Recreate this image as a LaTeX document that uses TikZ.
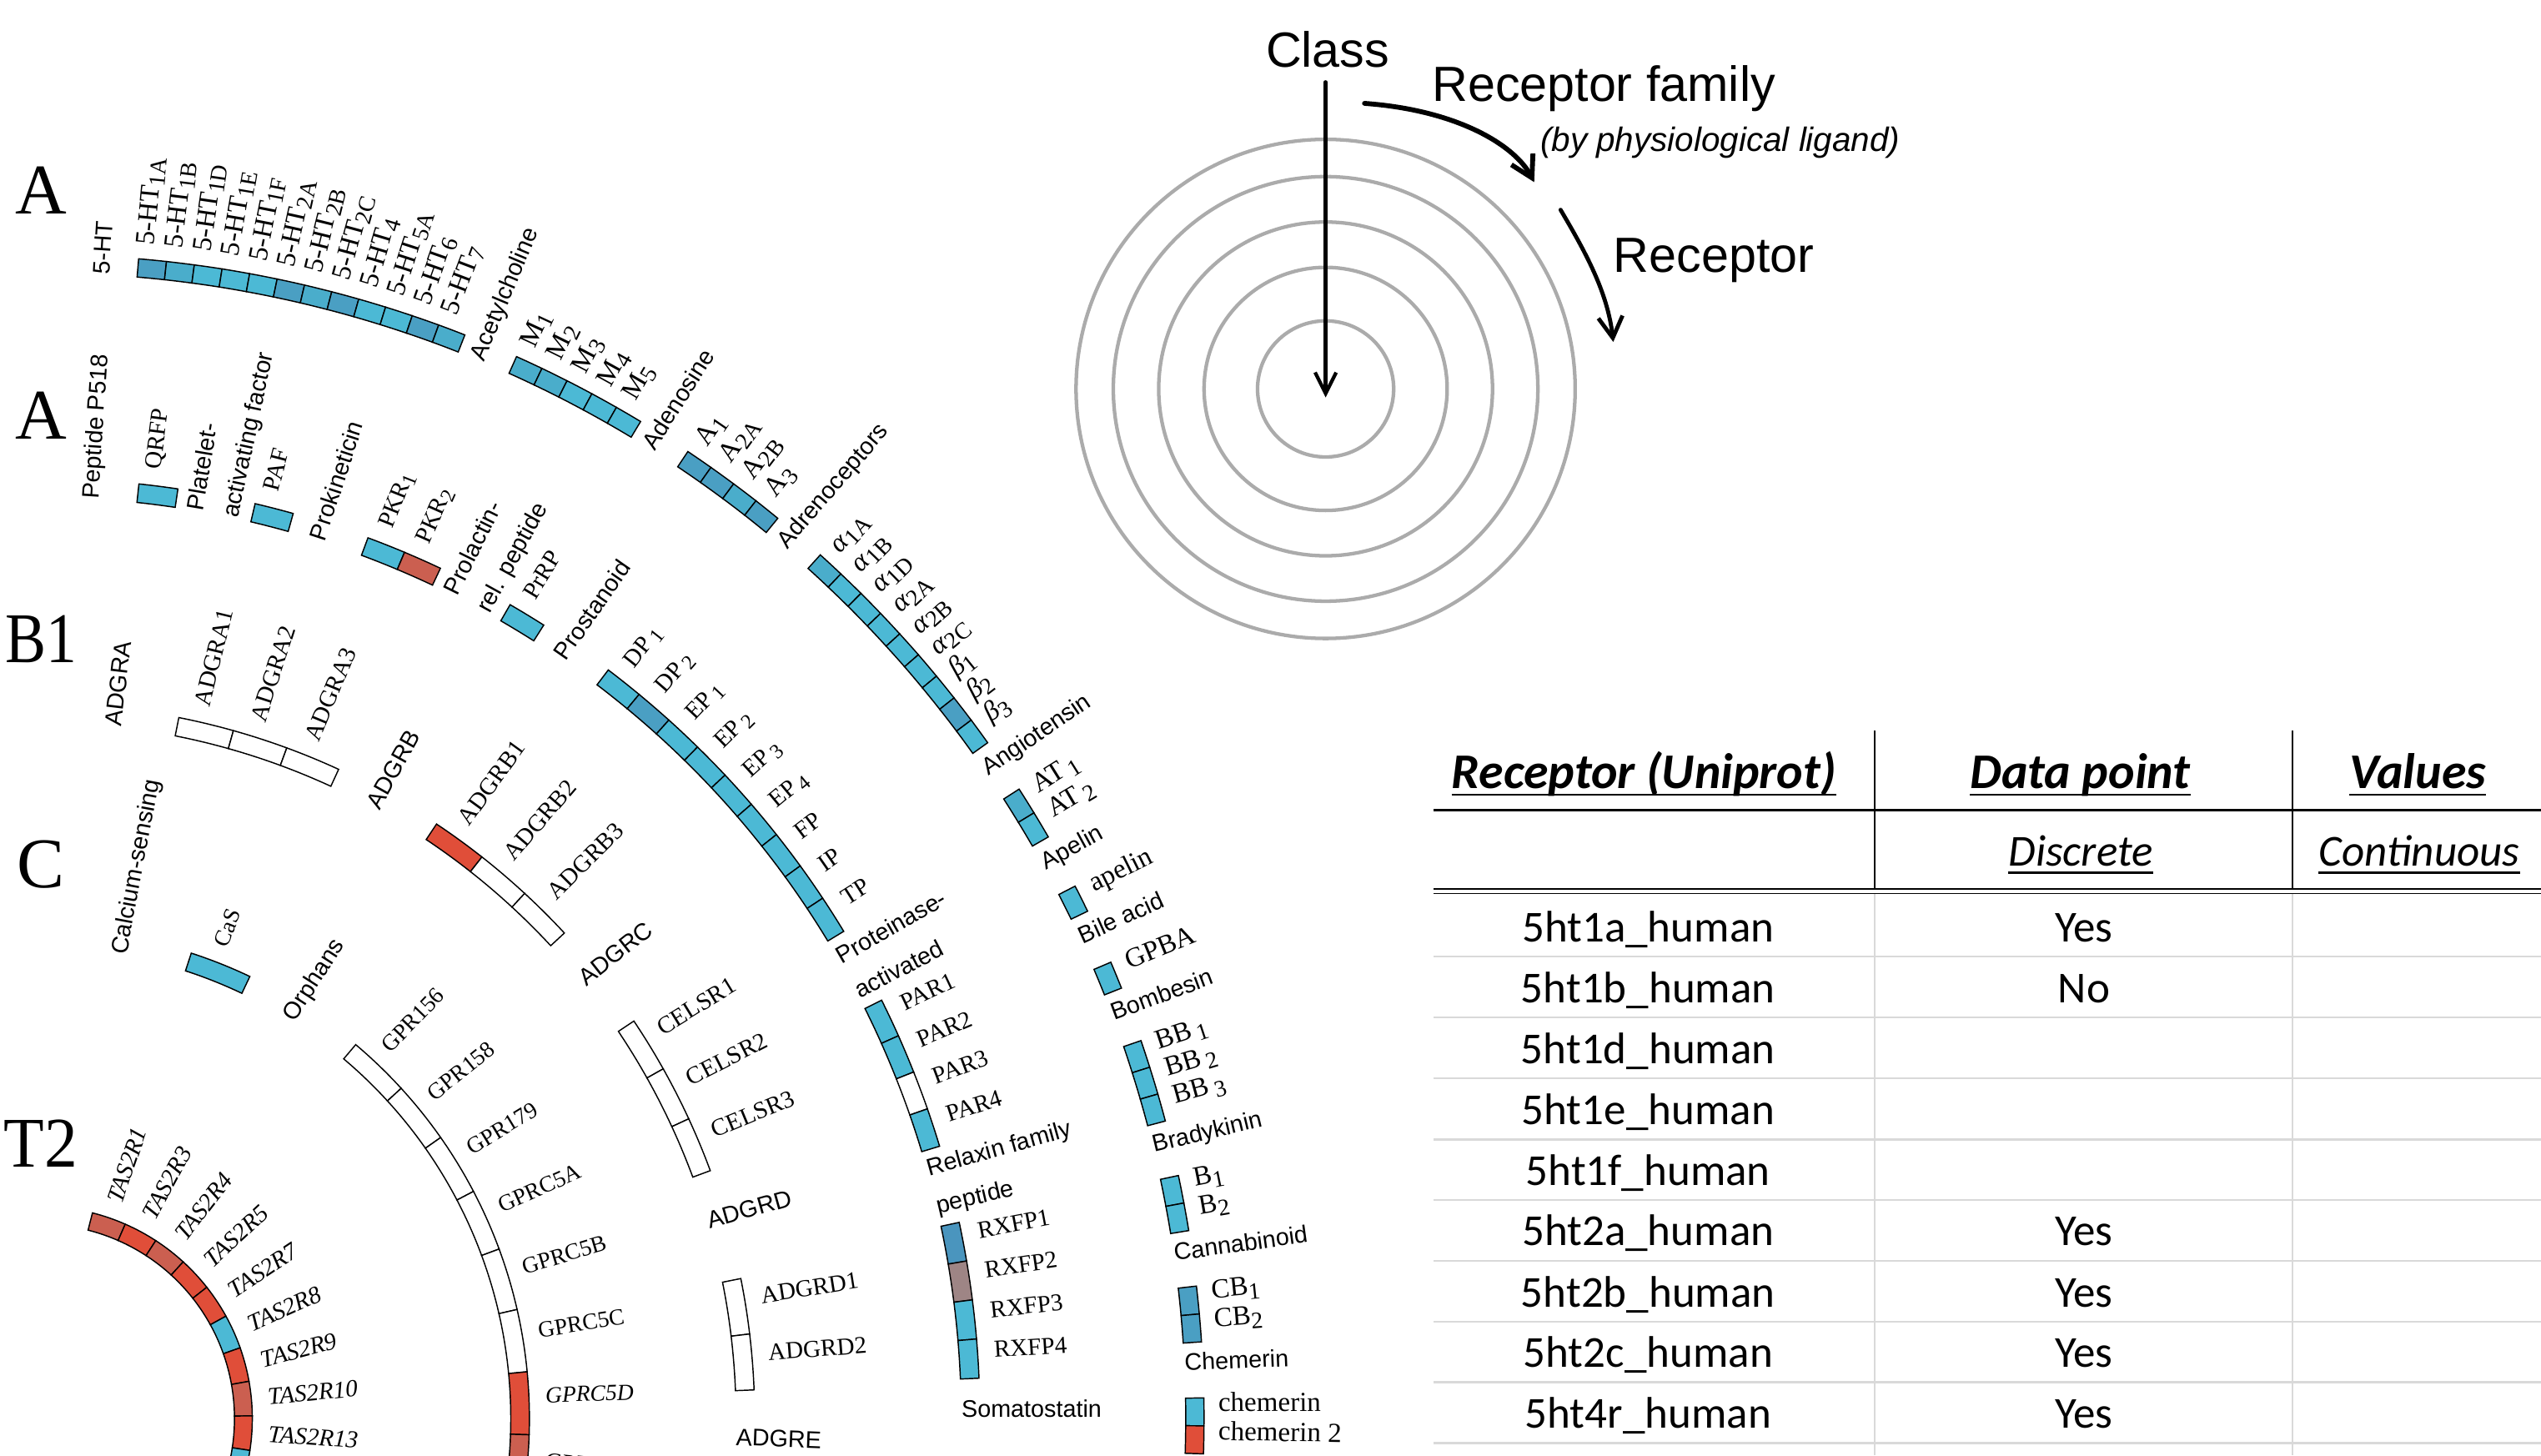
\documentclass[tikz,border=0pt]{standalone}
\usepackage{fontspec}
\setmainfont{Liberation Serif}
\newfontfamily\sansf{Liberation Sans}
\newfontfamily\calib{Carlito}
\usepackage{graphicx}
\usetikzlibrary{arrows.meta}
\definecolor{cL}{HTML}{4CB9D5}
\definecolor{cM}{HTML}{4AADCB}
\definecolor{cD}{HTML}{4A9FC3}
\definecolor{cS}{HTML}{4A95BE}
\definecolor{cT}{HTML}{9E8585}
\definecolor{cR}{HTML}{E04E39}
\definecolor{cRm}{HTML}{CB5F50}
\definecolor{ringgray}{HTML}{ABABAB}
\definecolor{rulegray}{HTML}{D9D9D9}
\newcommand\lo[1]{\raisebox{-0.4ex}{\scalebox{0.85}{#1}}}
% #1 Rin, #2 Rout, #3 start angle, #4 step, #5 label radius, #6 label style, #7 name prefix, #8 colour/label list
\newcommand\ringblock[8]{%
  \foreach \col/\lab [count=\i from 0] in {#8} {%
    \pgfmathsetmacro\angA{#3-\i*(#4)}%
    \pgfmathsetmacro\angB{#3-(\i+1)*(#4)}%
    \pgfmathsetmacro\angM{#3-(\i+0.5)*(#4)}%
    \filldraw[cell, fill=\col] (\angA:#1) arc[start angle=\angA, end angle=\angB, radius=#1]
      -- (\angB:#2) arc[start angle=\angB, end angle=\angA, radius=#2] -- cycle;
    \node[#6, rotate=\angM] (#7\i) at (\angM:#5) {\lab};
  }}
\newcommand\famlab[4]{\pgfmathsetmacro\famang{#2}\node[fam, rotate=\famang] (#3) at (\famang:#1) {#4};}
\newcommand\famtwo[6]{\pgfmathsetmacro\famA{#2+#3}\pgfmathsetmacro\famB{#2-#3}%
  \node[fam, anchor=west, rotate=\famA] (#4a) at (\famA:#1) {#5};%
  \node[fam, anchor=west, rotate=\famB] (#4b) at (\famB:#1) {#6};}
\newcommand\uline[4]{%
  \node[font=#3, anchor=base, inner sep=0pt] (#1) at (#2) {#4};
  \draw[line width=1.5pt] ([yshift=-4pt]#1.base west) -- ([yshift=-4pt]#1.base east);}
\def\oS{85.14}\def\oD{1.379}
\def\iS{83.96}\def\iD{2.397}
\def\bS{78.8}\def\bD{4.5}
\def\ccS{72.0}\def\ccD{7.39}
\begin{document}
\begin{tikzpicture}[x=1pt,y=1pt,
  cell/.style={draw=black, line width=0.75pt},
  fam/.style={font=\sansf\fontsize{14.8}{17}\selectfont, inner sep=0pt, anchor=base west},
  recO/.style={font=\fontsize{17}{19}\selectfont, inner sep=0pt, anchor=base west},
  recI/.style={font=\fontsize{15}{17}\selectfont, inner sep=0pt, anchor=base west},
  recC/.style={font=\fontsize{14.2}{16}\selectfont, inner sep=0pt, anchor=base west},
  recT/.style={font=\itshape\fontsize{15}{17}\selectfont, inner sep=0pt, anchor=west},
  cls/.style={font=\fontsize{44}{50}\selectfont, inner sep=0pt, anchor=base},
  hd/.style={font=\sansf\fontsize{30.5}{34}\selectfont, inner sep=0pt, anchor=base west},
  arr/.style={line cap=round}]
\path[use as bounding box] (0,0) rectangle (1568,898);
\clip (0,0) rectangle (1568,898);

% ---------------- class letters
\node[cls] (clA1) at (25.3,766) {A};
\node[cls] (clA2) at (25.2,627.1) {A};
\node[cls] (clB1) at (25.4,489.3) {\scalebox{0.86}[1]{B1}};
\node[cls] (clC)  at (25.2,350) {C};
\node[cls] (clT2) at (25.3,178) {\scalebox{0.93}[1]{T2}};

\begin{scope}[shift={(24.7,22.6)}]
% ---------------- class A, outer ring
\ringblock{707}{718.3}{\oS}{\oD}{727}{recO}{ht}{cD/5-HT\lo{1A}, cM/5-HT\lo{1B}, cL/5-HT\lo{1D}, cL/5-HT\lo{1E}, cL/5-HT\lo{1F}, cD/5-HT\lo{2A}, cM/5-HT\lo{2B}, cD/5-HT\lo{2C}, cL/5-HT\lo{4}, cL/5-HT\lo{5A}, cD/5-HT\lo{6}, cM/5-HT\lo{7}}
\ringblock{707}{718.3}{\oS-14*\oD}{\oD}{727}{recO}{mm}{cM/M\lo{1}, cM/M\lo{2}, cL/M\lo{3}, cL/M\lo{4}, cL/M\lo{5}}
\ringblock{707}{718.3}{\oS-21*\oD}{\oD}{727}{recO}{ad}{cD/A\lo{1}, cD/A\lo{2A}, cM/A\lo{2B}, cD/A\lo{3}}
\ringblock{707}{718.3}{\oS-27*\oD}{\oD}{727}{recO}{al}{cM/\textit{α}\lo{1A}, cL/\textit{α}\lo{1B}, cL/\textit{α}\lo{1D}, cL/\textit{α}\lo{2A}, cL/\textit{α}\lo{2B}, cL/\textit{α}\lo{2C}, cL/\textit{β}\lo{1}, cD/\textit{β}\lo{2}, cL/\textit{β}\lo{3}}
\ringblock{707}{718.3}{\oS-38*\oD}{\oD}{727}{recO}{at}{cM/AT\,\lo{1}, cL/AT\,\lo{2}}
\ringblock{707}{718.3}{\oS-42*\oD}{\oD}{727}{recO}{ap}{cL/apelin}
\ringblock{707}{718.3}{\oS-45*\oD}{\oD}{727}{recO}{gp}{cL/GPBA}
\ringblock{707}{718.3}{\oS-48*\oD}{\oD}{727}{recO}{bb}{cL/BB\,\lo{1}, cL/BB\,\lo{2}, cL/BB\,\lo{3}}
\ringblock{707}{718.3}{\oS-53*\oD}{\oD}{727}{recO}{bk}{cL/B\lo{1}, cL/B\lo{2}}
\ringblock{707}{718.3}{\oS-57*\oD}{\oD}{727}{recO}{cb}{cD/CB\lo{1}, cD/CB\lo{2}}
\ringblock{707}{718.3}{\oS-61*\oD}{\oD}{727}{recO}{ch}{cL/chemerin, cR/{chemerin 2}}
\famlab{707}{\oS+\oD}{f5ht}{5-HT}
\famlab{707}{\oS-13*\oD}{fach}{Acetylcholine}
\famlab{707}{\oS-20*\oD}{fade}{Adenosine}
\famlab{707}{\oS-26*\oD}{fadr}{Adrenoceptors}
\famlab{707}{\oS-37*\oD}{fang}{Angiotensin}
\famlab{707}{\oS-41*\oD}{fape}{Apelin}
\famlab{707}{\oS-44*\oD}{fbil}{Bile acid}
\famlab{707}{\oS-47*\oD}{fbom}{Bombesin}
\famlab{707}{\oS-52*\oD}{fbra}{Bradykinin}
\famlab{707}{\oS-56*\oD}{fcan}{Cannabinoid}
\famlab{707}{\oS-60*\oD}{fche}{Chemerin}

% ---------------- class A, inner ring
\ringblock{568.5}{580}{\iS}{\iD}{590}{recI}{qr}{cL/QRFP}
\ringblock{568.5}{580}{\iS-3*\iD}{\iD}{590}{recI}{pa}{cL/PAF}
\ringblock{568.5}{580}{\iS-6*\iD}{\iD}{590}{recI}{pk}{cL/PKR\lo{1}, cRm/PKR\lo{2}}
\ringblock{568.5}{580}{\iS-10*\iD}{\iD}{590}{recI}{pp}{cL/PrRP}
\ringblock{568.5}{580}{\iS-13*\iD}{\iD}{590}{recI}{ps}{cL/DP\,\lo{1}, cD/DP\,\lo{2}, cL/EP\,\lo{1}, cL/EP\,\lo{2}, cL/EP\,\lo{3}, cL/EP\,\lo{4}, cL/FP, cL/IP, cL/TP}
\ringblock{568.5}{580}{\iS-24*\iD}{\iD}{590}{recI}{par}{cL/PAR1, cL/PAR2, white/PAR3, cL/PAR4}
\ringblock{568.5}{580}{\iS-30*\iD}{\iD}{590}{recI}{rx}{cS/RXFP1, cT/RXFP2, cL/RXFP3, cL/RXFP4}
\famlab{568.5}{\iS+\iD}{fpep}{Peptide P518}
\famtwo{568.5}{\iS-2*\iD}{0.5*\iD}{fplt}{Platelet-}{activating factor}
\famlab{568.5}{\iS-5*\iD}{fpro}{Prokineticin}
\famtwo{568.5}{\iS-9*\iD}{0.5*\iD}{fprl}{Prolactin-}{rel. peptide}
\famlab{568.5}{\iS-12*\iD}{fpst}{Prostanoid}
\famtwo{568.5}{\iS-23*\iD}{0.5*\iD}{fpar}{Proteinase-}{activated}
\famtwo{568.5}{\iS-29*\iD}{0.5*\iD}{frlx}{Relaxin family}{peptide}
\famlab{568.5}{\iS-35*\iD}{fsom}{Somatostatin}

% ---------------- class B1
\ringblock{429.5}{441}{\bS}{\bD}{451}{recI}{ada}{white/ADGRA1, white/ADGRA2, white/ADGRA3}
\ringblock{429.5}{441}{\bS-5*\bD}{\bD}{451}{recI}{adb}{cR/ADGRB1, white/ADGRB2, white/ADGRB3}
\ringblock{429.5}{441}{\bS-10*\bD}{\bD}{451}{recI}{adc}{white/CELSR1, white/CELSR2, white/CELSR3}
\ringblock{429.5}{441}{\bS-15*\bD}{\bD}{451}{recI}{add}{white/ADGRD1, white/ADGRD2}
\famlab{429.5}{\bS+\bD}{fgra}{ADGRA}
\famlab{429.5}{\bS-4*\bD}{fgrb}{ADGRB}
\famlab{429.5}{\bS-9*\bD}{fgrc}{ADGRC}
\famlab{429.5}{\bS-14*\bD}{fgrd}{ADGRD}
\famlab{429.5}{\bS-18*\bD}{fgre}{ADGRE}

% ---------------- class C
\ringblock{290.5}{302}{\ccS}{\ccD}{312}{recC}{cas}{cL/CaS}
\ringblock{290.5}{302}{\ccS-3*\ccD}{\ccD}{312}{recC}{gpr}{white/GPR156, white/GPR158, white/GPR179, white/GPRC5A, white/GPRC5B, white/GPRC5C, cR/\textit{GPRC5D}, cRm/\textit{GPRC6A}}
\famlab{290.5}{\ccS+\ccD}{fcal}{Calcium-sensing}
\famlab{290.5}{\ccS-2*\ccD}{forp}{Orphans}

% ---------------- class T2
\ringblock{120}{131}{75.7}{9.37}{141}{recT}{tas}{cRm/TAS2R1, cR/TAS2R3, cRm/TAS2R4, cR/TAS2R5, cR/TAS2R7, cL/TAS2R8, cR/TAS2R9, cRm/TAS2R10, cR/TAS2R13, cL/{}}
\end{scope}

% ---------------- schematic of the rings
\coordinate (ctr) at (818,658);
\foreach \r in {42,75,103,131,154} \draw[ringgray, line width=2.2pt] (ctr) circle[radius=\r];
\node[font=\sansf\fontsize{30.5}{34}\selectfont, inner sep=0pt, anchor=base] (classlab) at (819.3,856.8) {Class};
\coordinate (clsA) at (818,847.4);
\coordinate (clsB) at (818,652.7);
\draw[arr, line width=2.2pt, -{Straight Barb[length=13pt,width=13pt]}] (clsA) -- (clsB);
\node[hd] (rflab) at (883.5,835.4) {Receptor family};
\node[font=\sansf\itshape\fontsize{20.8}{24}\selectfont, inner sep=0pt, anchor=base west] (liglab) at (950.3,804.5) {(by physiological ligand)};
\coordinate (rfA) at (842,834.2);
\coordinate (rfB) at (946.7,785.6);
\draw[arr, line width=3pt, -{Straight Barb[length=13pt,width=15pt]}] (rfA) .. controls (900,830) and (935,808) .. (rfB);
\node[hd] (reclab) at (995.4,730.2) {Receptor};
\coordinate (rcA) at (963,768.5);
\coordinate (rcB) at (995.5,687);
\draw[arr, line width=2.5pt, -{Straight Barb[length=13pt,width=15pt]}] (rcA) .. controls (978,743) and (992,718) .. (rcB);

% ---------------- table
\draw[black, line width=1.1pt] (1157,447.1) -- (1157,349) (1414.8,447.1) -- (1414.8,349);
\draw[rulegray, line width=1.1pt] (1157,346.8) -- (1157,0) (1414.8,346.8) -- (1414.8,0);
\draw[black, line width=1.6pt] (884.7,397.9) -- (1568,397.9);
\draw[black, line width=0.9pt] (884.7,349.3) -- (1568,349.3) (884.7,346.6) -- (1568,346.6);
\foreach \yy in {307.8,270.1,232.6,194.9,157.5,120,82.3,45.1,7.6}
  \draw[rulegray, line width=1.3pt] (884.7,\yy) -- (1568,\yy);
\uline{th1}{1014.5,411.6}{\calib\bfseries\itshape\fontsize{30.8}{34}\selectfont}{Receptor (Uniprot)}
\uline{th2}{1283.7,411.6}{\calib\bfseries\itshape\fontsize{30.8}{34}\selectfont}{Data point}
\uline{th3}{1492,411.6}{\calib\bfseries\itshape\fontsize{30.8}{34}\selectfont}{Values}
\uline{th4}{1284,363.6}{\calib\itshape\fontsize{27.3}{30}\selectfont}{Discrete}
\uline{th5}{1492.9,363.6}{\calib\itshape\fontsize{27.3}{30}\selectfont}{Continuous}
\foreach \nm/\val/\yy [count=\j] in {5ht1a\_human/Yes/317, 5ht1b\_human/No/279.3, 5ht1d\_human//241.8, 5ht1e\_human//204.1, 5ht1f\_human//166.7, 5ht2a\_human/Yes/129.2, 5ht2b\_human/Yes/91.5, 5ht2c\_human/Yes/54.3, 5ht4r\_human/Yes/16.8} {
  \node[font=\calib\fontsize{27.3}{30}\selectfont, inner sep=0pt, anchor=base] (rn\j) at (1017,\yy) {\nm};
  \node[font=\calib\fontsize{27.3}{30}\selectfont, inner sep=0pt, anchor=base] (rv\j) at (1286,\yy) {\val};
}
\end{tikzpicture}
\end{document}
